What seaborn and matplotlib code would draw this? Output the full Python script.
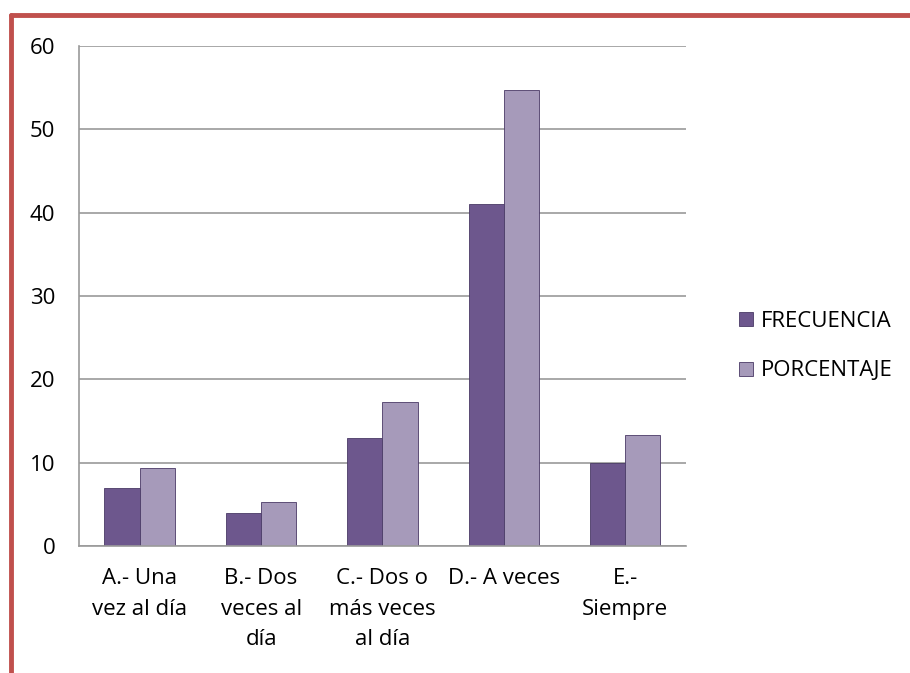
import numpy as np
import pandas as pd
import matplotlib
matplotlib.use("Agg")
import matplotlib.pyplot as plt
import seaborn as sns
from matplotlib.lines import Line2D

categorias = ["A.- Una\nvez al día", "B.- Dos\nveces al\ndía", "C.- Dos o\nmás veces\nal día",
              "D.- A veces", "E.-\nSiempre"]
frecuencia = [7, 4, 13, 41, 10]
porcentaje = [9.33, 5.33, 17.33, 54.67, 13.33]
series = ["FRECUENCIA", "PORCENTAJE"]
colores = ["#6B4E96", "#A595BF"]

df = pd.DataFrame({
    "categoria": categorias * 2,
    "serie": [series[0]] * 5 + [series[1]] * 5,
    "valor": frecuencia + porcentaje,
})

sns.set_style("white")
plt.rcParams["font.family"] = ["Open Sans", "DejaVu Sans"]
plt.rcParams["text.color"] = "black"
plt.rcParams["xtick.labelcolor"] = "black"
plt.rcParams["ytick.labelcolor"] = "black"

fig = plt.figure(figsize=(9.1, 6.73), dpi=100)
ax = fig.add_axes([0.0868, 0.1887, 0.667, 0.743])

sns.barplot(data=df, x="categoria", y="valor", hue="serie", palette=colores,
            width=0.58, gap=0, edgecolor="#4a3a66", linewidth=0.6, ax=ax)

ax.set_ylim(0, 60)
ax.set_xlim(-0.5, 4.5)
ax.set_yticks(range(0, 61, 10))
ax.yaxis.grid(True, color="#9a9a9a", linewidth=1.2)
ax.set_axisbelow(True)
ax.set_xlabel("")
ax.set_ylabel("")

for s in ["top", "right"]:
    ax.spines[s].set_visible(False)
for s in ["left", "bottom"]:
    ax.spines[s].set_color("#9a9a9a")
    ax.spines[s].set_linewidth(1.2)

ax.tick_params(axis="y", length=7, color="#9a9a9a", width=1.2, labelsize=16, pad=10,
               labelcolor="black")
ax.tick_params(axis="x", which="major", length=0, labelsize=16, pad=16, labelcolor="black")
ax.set_xticks(np.arange(-0.5, 5, 1), minor=True)
ax.tick_params(axis="x", which="minor", length=7, color="#9a9a9a", width=1.2)
for t in ax.get_xticklabels():
    t.set_linespacing(1.6)

leg = ax.legend(loc="center left", bbox_to_anchor=(1.055, 0.4), frameon=False,
                fontsize=16, handlelength=0.6, handleheight=0.6, handletextpad=0.35,
                labelspacing=1.3)
for t in leg.get_texts():
    t.set_color("black")

# marco rojo
fig.add_artist(Line2D([0.012, 1.0], [0.978, 0.978], color="#C0504D", linewidth=3.5,
                      transform=fig.transFigure))
fig.add_artist(Line2D([0.012, 0.012], [0.0, 0.978], color="#C0504D", linewidth=3.5,
                      transform=fig.transFigure))

fig.savefig("out.png", dpi=100)
